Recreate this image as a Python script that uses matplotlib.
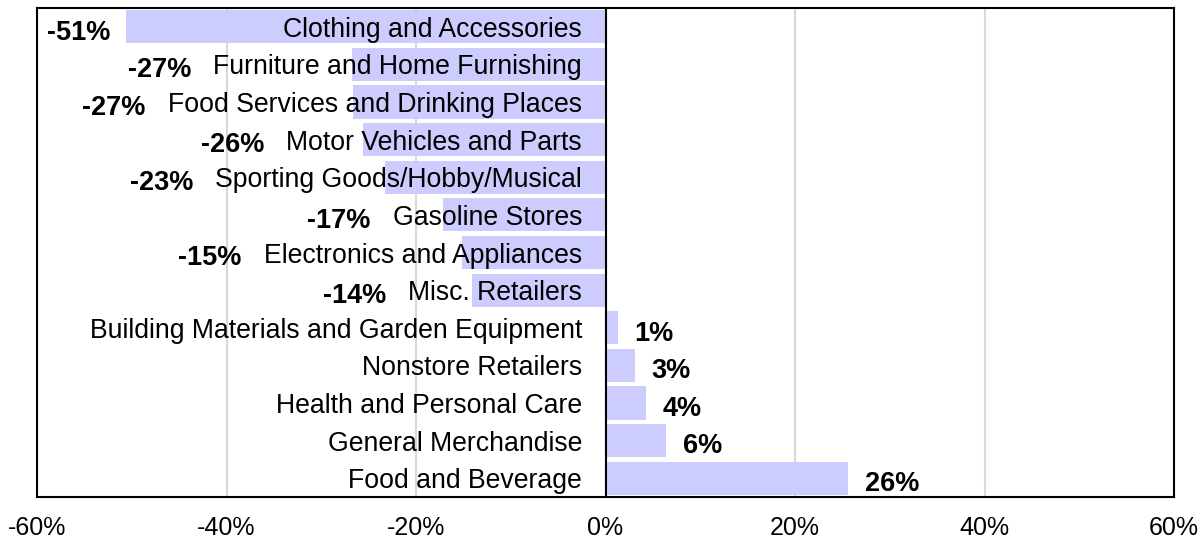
import numpy as np
import matplotlib
matplotlib.use('Agg')
import matplotlib.pyplot as plt

categories = ['Clothing and Accessories', 'Furniture and Home Furnishing',
              'Food Services and Drinking Places', 'Motor Vehicles and Parts',
              'Sporting Goods/Hobby/Musical', 'Gasoline Stores',
              'Electronics and Appliances', 'Misc. Retailers',
              'Building Materials and Garden Equipment', 'Nonstore Retailers',
              'Health and Personal Care', 'General Merchandise', 'Food and Beverage']
changes = [-50.6, -26.8, -26.6, -25.6, -23.3, -17.2, -15.1, -14.1,
           1.3, 3.1, 4.3, 6.4, 25.6]
xticks = [-60, -40, -20, 0, 20, 40, 60]

plt.rcParams['font.family'] = ['Liberation Sans', 'DejaVu Sans']

fig = plt.figure(figsize=(12.01, 5.38), dpi=100)
ax = fig.add_axes([37 / 1201, 1 - 497 / 538, (1174 - 37) / 1201, (497 - 8) / 538])

y = np.arange(len(categories))
ax.barh(y, changes, height=0.88, color='#ccccff', zorder=2)
ax.axvline(0, color='black', lw=1.5, zorder=3)

ax.set_xlim(-60, 60)
ax.set_ylim(len(categories) - 0.5, -0.5)
ax.set_xticks(xticks)
ax.set_xticklabels(['%d%%' % t for t in xticks], fontsize=18)
ax.tick_params(axis='x', length=0, pad=14)
ax.set_yticks([])
ax.grid(axis='x', color='#d9d9d9', lw=1.5, zorder=0)
ax.set_axisbelow(True)
for s in ax.spines.values():
    s.set_linewidth(1.5)
    s.set_color('black')

# category names just left of the zero line
cat_texts = []
for i, name in enumerate(categories):
    t = ax.annotate(name, xy=(0, i), xytext=(-17, 0), textcoords='offset points',
                    ha='right', va='center_baseline', fontsize=19.2, zorder=4)
    cat_texts.append(t)

fig.canvas.draw()
renderer = fig.canvas.get_renderer()
inv = ax.transData.inverted()

# value labels: right of positive bars, left of text/bar for negatives
for i, v in enumerate(changes):
    lab = '%.0f%%' % v
    if v >= 0:
        ax.annotate(lab, xy=(v, i), xytext=(12, -2), textcoords='offset points',
                    ha='left', va='center_baseline', fontsize=19.5, fontweight='bold', zorder=4)
    else:
        x0 = cat_texts[i].get_window_extent(renderer).x0
        xd = inv.transform((x0, 0))[0]
        off = -11 if v < xd else -16
        ax.annotate(lab, xy=(min(v, xd), i), xytext=(off, -2), textcoords='offset points',
                    ha='right', va='center_baseline', fontsize=19.5, fontweight='bold', zorder=4)

fig.savefig('out.png', dpi=100)
